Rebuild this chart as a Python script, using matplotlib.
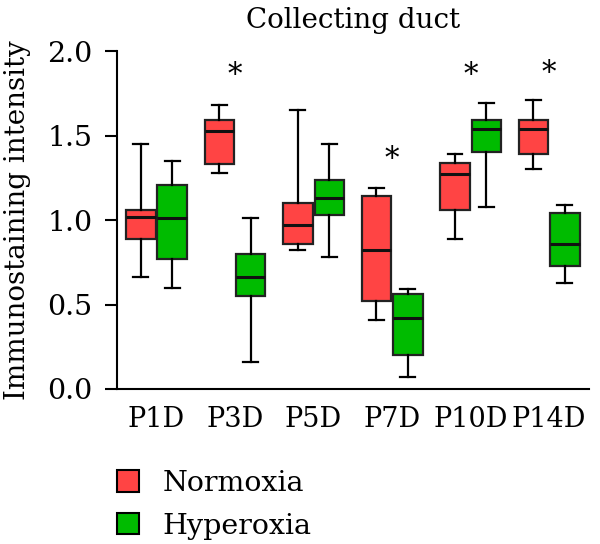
import numpy as np
import matplotlib
matplotlib.use("Agg")
import matplotlib.pyplot as plt
from matplotlib.patches import Patch

# data (whisker low, q1, median, q3, whisker high)
days = ['P1D', 'P3D', 'P5D', 'P7D', 'P10D', 'P14D']
norm_lo  = [0.66, 1.28, 0.82, 0.41, 0.89, 1.30]
norm_q1  = [0.89, 1.33, 0.86, 0.52, 1.06, 1.39]
norm_med = [1.02, 1.53, 0.97, 0.82, 1.27, 1.54]
norm_q3  = [1.06, 1.59, 1.10, 1.14, 1.34, 1.59]
norm_hi  = [1.45, 1.68, 1.65, 1.19, 1.39, 1.71]

hyp_lo  = [0.60, 0.16, 0.78, 0.07, 1.08, 0.63]
hyp_q1  = [0.77, 0.55, 1.03, 0.20, 1.40, 0.73]
hyp_med = [1.01, 0.66, 1.13, 0.42, 1.54, 0.86]
hyp_q3  = [1.21, 0.80, 1.24, 0.56, 1.59, 1.04]
hyp_hi  = [1.35, 1.01, 1.45, 0.59, 1.69, 1.09]

star_days = ['P3D', 'P7D', 'P10D', 'P14D']
star_y    = [1.86, 1.36, 1.86, 1.87]

red = '#FF4444'
green = '#00BB00'

matplotlib.rcParams['font.family'] = 'DejaVu Serif'

fig = plt.figure(figsize=(6.0, 5.44), dpi=100)
ax = fig.add_axes([0.195, 0.285, 0.787, 0.621])

def stats(lo, q1, med, q3, hi):
    return [dict(whislo=a, q1=b, med=c, q3=d, whishi=e, fliers=[])
            for a, b, c, d, e in zip(lo, q1, med, q3, hi)]

x = np.arange(len(days))
off = 0.2
w = 0.375
for st, pos, col in [(stats(norm_lo, norm_q1, norm_med, norm_q3, norm_hi), x - off, red),
                     (stats(hyp_lo, hyp_q1, hyp_med, hyp_q3, hyp_hi), x + off, green)]:
    ax.bxp(st, positions=pos, widths=w, patch_artist=True, showfliers=False,
           boxprops=dict(facecolor=col, edgecolor='#222222', linewidth=1.6),
           medianprops=dict(color='#111111', linewidth=2.2),
           whiskerprops=dict(color='black', linewidth=1.6),
           capprops=dict(color='black', linewidth=1.6),
           capwidths=w * 0.5)

for d, yv in zip(star_days, star_y):
    ax.text(days.index(d), yv, '*', ha='center', va='center', fontsize=21)

ax.set_xlim(-0.503, 5.51)
ax.set_ylim(0, 2.0)
ax.set_yticks([0.0, 0.5, 1.0, 1.5, 2.0])
ax.set_yticklabels(['0.0', '0.5', '1.0', '1.5', '2.0'])
ax.set_xticks(x)
ax.set_xticklabels(days)
ax.tick_params(axis='x', length=0, pad=12, labelsize=19.5)
ax.tick_params(axis='y', length=8.6, width=1.5, pad=9, labelsize=20.5)
for s in ['top', 'right']:
    ax.spines[s].set_visible(False)
for s in ['left', 'bottom']:
    ax.spines[s].set_linewidth(1.5)
ax.set_title('Collecting duct', fontsize=20, pad=17)
ax.set_ylabel('Immunostaining intensity', fontsize=20)
ax.yaxis.set_label_coords(-0.182, 0.5)

handles = [Patch(facecolor=red, edgecolor='black', linewidth=1.5, label='Normoxia'),
           Patch(facecolor=green, edgecolor='black', linewidth=1.5, label='Hyperoxia')]
fig.legend(handles=handles, loc='upper left', bbox_to_anchor=(0.172, 0.1625),
           frameon=False, fontsize=20.5, handlelength=0.77, handleheight=0.77,
           handletextpad=0.8, labelspacing=0.56, borderpad=0)

fig.savefig('out.png', dpi=100)
